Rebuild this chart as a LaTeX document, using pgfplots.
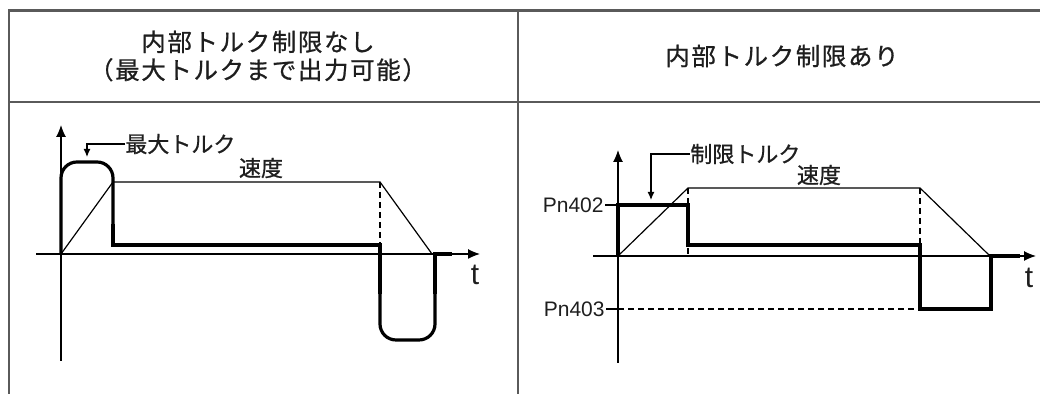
\documentclass[border=0pt]{standalone}
\usepackage{fontspec}
\setmainfont{Liberation Sans}
\newfontfamily\jp[FakeBold=0.8]{Noto Sans CJK JP}
\newfontfamily\jph[LetterSpace=7,FakeBold=0.8]{Noto Sans CJK JP}
\usepackage{pgfplots}
\pgfplotsset{compat=1.18}
\usetikzlibrary{arrows.meta}
\definecolor{tablegray}{RGB}{90,90,90}
\definecolor{ink}{RGB}{30,30,30}
\pgfplotsset{
  tdiag/.style={
    axis lines=middle, x=0.5pt, y=0.5pt,
    xtick=\empty, ytick=\empty, clip=false,
    axis line style={line width=0.6pt, black},
    every inner x axis line/.append style={-{Latex[length=6pt,width=5pt]}},
    every inner y axis line/.append style={-{Latex[length=6pt,width=5pt]}},
  },
  speed/.style={black, line width=0.6pt},
  torque/.style={black, line width=1.6pt},
  dsh/.style={black, line width=0.6pt, dash pattern=on 3pt off 2pt},
}
\begin{document}
\begin{tikzpicture}[x=0.5pt,y=0.5pt]
\path[use as bounding box] (0,0) rectangle (1040,394);
% table frame
\draw[tablegray, line width=1.25pt] (9,0) -- (9,383.5) -- (1040,383.5);
\draw[tablegray, line width=1.25pt] (9,292) -- (1040,292);
\draw[tablegray, line width=1.25pt] (518,0) -- (518,383.5);
% headers
\node[font=\jph\fontsize{12.2}{14}\selectfont, align=center, text=ink] at (258,338) {内部トルク制限なし\\（最大トルクまで出力可能）};
\node[font=\jph\fontsize{12.2}{14}\selectfont, text=ink] at (782,338) {内部トルク制限あり};

% left diagram
\begin{axis}[tdiag, at={(18pt,16.5pt)}, anchor=south west,
  xmin=-25, xmax=419, ymin=-107, ymax=129]
\addplot[speed] coordinates {(0,0) (52,72) (319,72) (371,0)};
\addplot[torque, rounded corners=8pt] coordinates {(0,0) (0,92) (52,92) (52,30)};
\addplot[torque] coordinates {(52,30) (52,9) (319,9) (319,-40)};
\addplot[torque, rounded corners=8pt] coordinates {(319,-40) (319,-86) (374,-86) (374,-40)};
\addplot[torque] coordinates {(374,-40) (374,0) (391,0)};
\addplot[dsh] coordinates {(319,72) (319,9)};
\draw[line width=0.6pt, -{Latex[length=4pt,width=3.5pt]}] (axis cs:64,110) -- (axis cs:26,110) -- (axis cs:26,97);
\node[anchor=west, inner sep=0pt, font=\jp\fontsize{11}{13}\selectfont, text=ink] at (axis cs:64,110) {最大トルク};
\node[font=\jp\fontsize{11}{13}\selectfont, text=ink] at (axis cs:200,86) {速度};
\node[font=\fontsize{15}{18}\selectfont, text=ink] at (axis cs:414,-21) {t};
\end{axis}

% right diagram
\begin{axis}[tdiag, at={(296.5pt,15.5pt)}, anchor=south west,
  xmin=-25, xmax=418, ymin=-107, ymax=106]
\addplot[speed] coordinates {(0,0) (70,68) (302,68) (372,0)};
\addplot[torque] coordinates {(0,0) (0,51) (70,51) (70,11) (302,11) (302,-53) (373,-53) (373,0) (402,0)};
\addplot[dsh] coordinates {(70,68) (70,0)};
\addplot[dsh] coordinates {(302,68) (302,11)};
\addplot[dsh] coordinates {(0,-53) (302,-53)};
\draw[line width=0.6pt] (axis cs:-13,51) -- (axis cs:0,51);
\draw[line width=0.6pt] (axis cs:-12,-53) -- (axis cs:0,-53);
\node[anchor=east, inner sep=0.5pt, font=\fontsize{10.5}{12}\selectfont, text=ink] at (axis cs:-13,51) {Pn402};
\node[anchor=east, inner sep=0.5pt, font=\fontsize{10.5}{12}\selectfont, text=ink] at (axis cs:-12,-53) {Pn403};
\draw[line width=0.6pt, -{Latex[length=4pt,width=3.5pt]}] (axis cs:72,102) -- (axis cs:33,102) -- (axis cs:33,56);
\node[anchor=west, inner sep=0pt, font=\jp\fontsize{11}{13}\selectfont, text=ink] at (axis cs:72,102) {制限トルク};
\node[font=\jp\fontsize{11}{13}\selectfont, text=ink] at (axis cs:201,81) {速度};
\node[font=\fontsize{15}{18}\selectfont, text=ink] at (axis cs:411,-22) {t};
\end{axis}
\end{tikzpicture}
\end{document}
